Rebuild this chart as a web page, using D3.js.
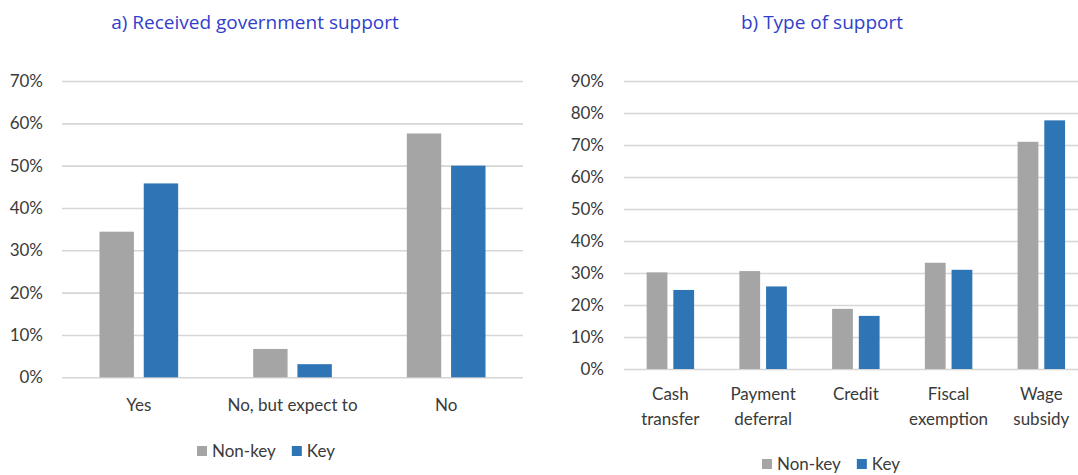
<!DOCTYPE html>
<html><head><meta charset="utf-8">
<script src="https://cdn.jsdelivr.net/npm/d3@7"></script>
<style>
html,body{margin:0;padding:0;background:#fff;}
svg{display:block;}
</style></head>
<body>
<svg id="c" width="1078" height="475"></svg>
<script>
const seriesNames = ["Non-key", "Key"];
const seriesColors = ["#a5a5a5", "#2e75b6"];

const catsA = ["Yes", "No, but expect to", "No"];
const nonKeyA = [34.4, 6.7, 57.6];
const keyA = [45.8, 3.1, 50.0];
const ticksA = [0, 10, 20, 30, 40, 50, 60, 70];

const catsB = [["Cash", "transfer"], ["Payment", "deferral"], ["Credit"], ["Fiscal", "exemption"], ["Wage", "subsidy"]];
const nonKeyB = [30.2, 30.6, 18.8, 33.2, 71.0];
const keyB = [24.7, 25.8, 16.6, 31.0, 77.7];
const ticksB = [0, 10, 20, 30, 40, 50, 60, 70, 80, 90];

const titleA = "a) Received government support";
const titleB = "b) Type of support";

const svg = d3.select("#c");
const FONT = "Lato, 'Open Sans', sans-serif";
const TFONT = "'Open Sans', 'Noto Sans', sans-serif";
const TXT = "#3a3a3a";

function panel(cfg) {
  const g = svg.append("g");
  const y = d3.scaleLinear().domain([0, cfg.ymax]).range([cfg.y0, cfg.y1]);
  const x = d3.scaleBand().domain(d3.range(cfg.cats.length)).range([cfg.x0, cfg.x1]).padding(0);
  const bw = x.bandwidth();
  const barW = bw * 0.224, gap = bw * 0.064;
  const inner = d3.scaleOrdinal().domain([0, 1]).range([-(gap / 2 + barW), gap / 2]);

  const grid = d3.axisLeft(y).tickValues(cfg.ticks).tickSize(-(cfg.gx1 - cfg.x0)).tickFormat("");
  const gg = g.append("g").attr("transform", `translate(${cfg.x0},0)`).call(grid);
  gg.select(".domain").remove();
  gg.selectAll("line").attr("stroke", "#d6d6d6").attr("stroke-width", 1.6);

  const ya = d3.axisLeft(y).tickValues(cfg.ticks).tickSize(0).tickPadding(0).tickFormat(d => d + "%");
  const yg = g.append("g").attr("transform", `translate(${cfg.labelX},0)`).call(ya);
  yg.select(".domain").remove();
  yg.selectAll("text").attr("font-family", FONT).attr("font-size", 17).attr("fill", TXT);

  const data = [cfg.nonKey, cfg.key];
  data.forEach((vals, s) => {
    g.append("g").selectAll("rect").data(vals).join("rect")
      .attr("x", (d, i) => x(i) + bw / 2 + inner(s))
      .attr("width", barW)
      .attr("y", d => y(d))
      .attr("height", d => y(0) - y(d))
      .attr("fill", seriesColors[s]);
  });

  cfg.cats.forEach((c, i) => {
    const lines = Array.isArray(c) ? c : [c];
    const t = g.append("text").attr("x", x(i) + bw / 2).attr("y", cfg.xLabelY)
      .attr("text-anchor", "middle").attr("font-family", FONT).attr("font-size", 17).attr("fill", TXT);
    lines.forEach((l, k) => t.append("tspan").attr("x", x(i) + bw / 2).attr("dy", k === 0 ? 0 : 25).text(l));
  });

  g.append("text").attr("x", cfg.titleX).attr("y", cfg.titleY).attr("text-anchor", "middle")
    .attr("font-family", TFONT).attr("font-size", 19).attr("fill", "#3040cc").text(cfg.title);

  const lg = g.append("g").attr("transform", `translate(${cfg.legX},${cfg.legY})`);
  let off = 0;
  seriesNames.forEach((n, s) => {
    lg.append("rect").attr("x", off).attr("y", -5).attr("width", 10).attr("height", 10).attr("fill", seriesColors[s]);
    const t = lg.append("text").attr("x", off + 15).attr("y", 0).attr("dy", "0.35em")
      .attr("font-family", FONT).attr("font-size", 17).attr("fill", TXT).text(n);
    off += 15 + t.node().getComputedTextLength() + 16;
  });
}

panel({cats: catsA, nonKey: nonKeyA, key: keyA, ticks: ticksA, ymax: 70,
  y0: 377.3, y1: 81, x0: 62, x1: 523, gx1: 523, labelX: 43,
  xLabelY: 411, title: titleA, titleX: 255, titleY: 29, legX: 197, legY: 451});
panel({cats: catsB, nonKey: nonKeyB, key: keyB, ticks: ticksB, ymax: 90,
  y0: 369, y1: 81, x0: 624, x1: 1087.7, gx1: 1090, labelX: 604,
  xLabelY: 400, title: titleB, titleX: 822, titleY: 29, legX: 762, legY: 464});
</script>
</body></html>
